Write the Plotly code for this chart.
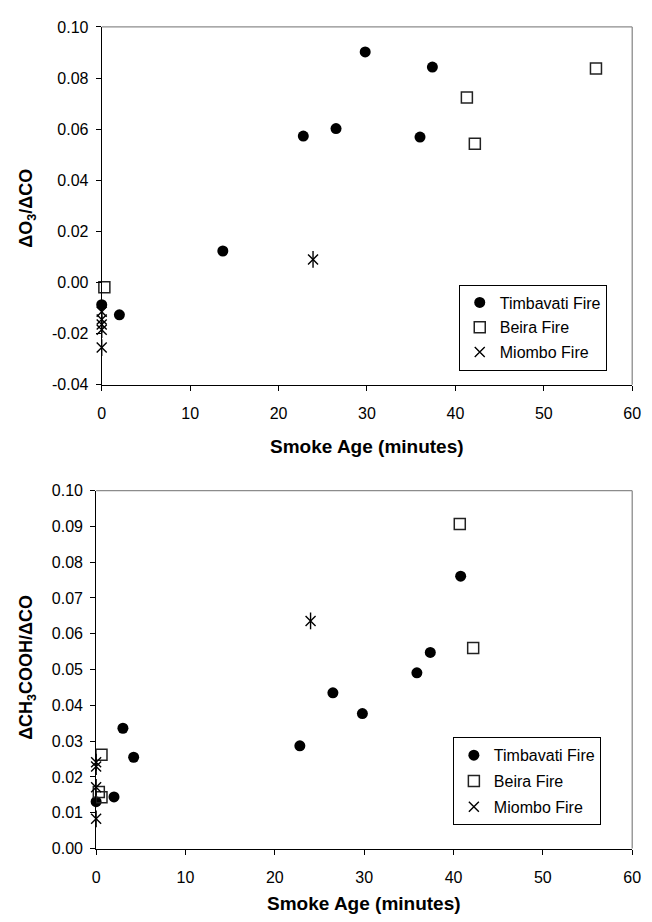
import plotly.graph_objects as go

# ---------------- data ----------------
# Top panel: dO3/dCO vs smoke age (minutes)
tim_top_x = [0.0, 2.0, 13.7, 22.8, 26.5, 29.8, 36.0, 37.4]
tim_top_y = [-0.0087, -0.0127, 0.0123, 0.0573, 0.0602, 0.0902, 0.0569, 0.0843]
beira_top_x = [0.3, 41.3, 42.2, 55.9]
beira_top_y = [-0.0019, 0.0724, 0.0543, 0.0837]
miombo_top_x = [0.0, 0.0, 0.0, 0.0, 0.0, 23.9]
miombo_top_y = [-0.0115, -0.0145, -0.0165, -0.0185, -0.0255, 0.0090]

# Bottom panel: dCH3COOH/dCO vs smoke age (minutes)
tim_bot_x = [0.0, 2.0, 3.0, 4.2, 22.8, 26.5, 29.8, 35.9, 37.4, 40.8]
tim_bot_y = [0.0131, 0.0144, 0.0336, 0.0255, 0.0287, 0.0435, 0.0377, 0.0491, 0.0548, 0.0761]
beira_bot_x = [0.3, 0.6, 0.6, 40.7, 42.2]
beira_bot_y = [0.0158, 0.0143, 0.0262, 0.0907, 0.0560]
miombo_bot_x = [0.0, 0.0, 0.0, 0.0, 24.0]
miombo_bot_y = [0.0241, 0.0229, 0.0171, 0.0083, 0.0636]

series_names = ["Timbavati Fire", "Beira Fire", "Miombo Fire"]
x_ticks = [0, 10, 20, 30, 40, 50, 60]
y_ticks_top = [-0.04, -0.02, 0.00, 0.02, 0.04, 0.06, 0.08, 0.10]
y_ticks_bot = [0.00, 0.01, 0.02, 0.03, 0.04, 0.05, 0.06, 0.07, 0.08, 0.09, 0.10]
x_title = "Smoke Age (minutes)"
y_title_top = "ΔO<sub>3</sub>/ΔCO"
y_title_bot = "ΔCH<sub>3</sub>COOH/ΔCO"

# ---------------- styling ----------------
W, H = 652, 922
FONT = "Liberation Sans, Arial, sans-serif"


def fmt(v):
    return f"{v:.2f}"


fig = go.Figure()


def add_panel(xa, ya, legend, tx, ty, bx, by, mx, my):
    fig.add_trace(go.Scatter(
        x=tx, y=ty, mode="markers", name=series_names[0],
        marker=dict(symbol="circle", size=11, color="black"),
        xaxis=xa, yaxis=ya, legend=legend, legendgroup=legend + "a",
        cliponaxis=False))
    fig.add_trace(go.Scatter(
        x=bx, y=by, mode="markers", name=series_names[1],
        marker=dict(symbol="square-open", size=11, color="#222",
                    line=dict(width=1.5, color="#222")),
        xaxis=xa, yaxis=ya, legend=legend, legendgroup=legend + "b",
        cliponaxis=False))
    fig.add_trace(go.Scatter(
        x=mx, y=my, mode="markers", name=series_names[2],
        marker=dict(symbol="x-thin-open", size=10, color="black",
                    line=dict(width=1.4, color="black")),
        xaxis=xa, yaxis=ya, legend=legend, legendgroup=legend + "c",
        cliponaxis=False))
    fig.add_trace(go.Scatter(
        x=mx, y=my, mode="markers", name=series_names[2], showlegend=False,
        marker=dict(symbol="line-ns-open", size=12, color="black",
                    line=dict(width=1.4, color="black")),
        xaxis=xa, yaxis=ya, legend=legend, legendgroup=legend + "c",
        cliponaxis=False))


add_panel("x", "y", "legend", tim_top_x, tim_top_y, beira_top_x, beira_top_y,
          miombo_top_x, miombo_top_y)
add_panel("x2", "y2", "legend2", tim_bot_x, tim_bot_y, beira_bot_x, beira_bot_y,
          miombo_bot_x, miombo_bot_y)

# plot-area pixel geometry
top_l, top_r, top_t, top_b = 99.7, 641.0, 19.3, 383.7
bot_l, bot_r, bot_t, bot_b = 94.0, 641.0, 491.7, 856.3

axis_common = dict(showgrid=False, zeroline=False, showline=True,
                   linecolor="black", linewidth=1, ticks="outside",
                   ticklen=5, tickwidth=1, tickcolor="black",
                   tickfont=dict(family=FONT, size=16, color="black"))

fig.update_layout(
    width=W, height=H,
    margin=dict(l=0, r=0, t=0, b=0),
    paper_bgcolor="white", plot_bgcolor="white",
    font=dict(family=FONT, color="black"),
    xaxis=dict(domain=[top_l / W, top_r / W], range=[0, 60], anchor="y",
               tickvals=x_ticks, ticktext=[str(v) for v in x_ticks],
               ticklabelstandoff=9, **axis_common),
    yaxis=dict(domain=[1 - top_b / H, 1 - top_t / H], range=[-0.04, 0.10],
               anchor="x", tickvals=y_ticks_top,
               ticktext=[fmt(v) for v in y_ticks_top],
               ticklabelstandoff=4, **axis_common),
    xaxis2=dict(domain=[bot_l / W, bot_r / W], range=[0, 60], anchor="y2",
                tickvals=x_ticks, ticktext=[str(v) for v in x_ticks],
                ticklabelstandoff=9, **axis_common),
    yaxis2=dict(domain=[1 - bot_b / H, 1 - bot_t / H], range=[0, 0.10],
                anchor="x2", tickvals=y_ticks_bot,
                ticktext=[fmt(v) for v in y_ticks_bot],
                ticklabelstandoff=4, **axis_common),
    legend=dict(x=464 / W, y=1 - 281.7 / H, xanchor="left", yanchor="top",
                bgcolor="white", bordercolor="black", borderwidth=1,
                font=dict(family=FONT, size=16, color="black"),
                tracegroupgap=1, itemclick=False),
    legend2=dict(x=458 / W, y=1 - 743 / H, xanchor="left", yanchor="top",
                 bgcolor="white", bordercolor="black", borderwidth=1,
                 font=dict(family=FONT, size=16, color="black"),
                 tracegroupgap=2, itemclick=False),
    showlegend=True,
)

# gray top/right frame lines
for xd, yd in (("x domain", "y domain"), ("x2 domain", "y2 domain")):
    fig.add_shape(type="line", xref=xd, yref=yd, x0=0, x1=1, y0=1, y1=1,
                  line=dict(color="#8c8c8c", width=1.3))
    fig.add_shape(type="line", xref=xd, yref=yd, x0=1, x1=1, y0=0, y1=1,
                  line=dict(color="#8c8c8c", width=1.3))

# axis titles
fig.add_annotation(text=f"<b>{x_title}</b>", xref="paper", yref="paper",
                   x=(top_l + top_r) / 2 / W, y=1 - 446.6 / H,
                   xanchor="center", yanchor="middle", showarrow=False,
                   font=dict(family=FONT, size=19, color="black"))
fig.add_annotation(text=f"<b>{x_title}</b>", xref="paper", yref="paper",
                   x=(bot_l + bot_r) / 2 / W, y=1 - 912 / H,
                   xanchor="center", yanchor="middle", showarrow=False,
                   font=dict(family=FONT, size=19, color="black"))
fig.add_annotation(text=f"<b>{y_title_top}</b>", xref="paper", yref="paper",
                   x=24 / W, y=1 - 204 / H, textangle=-90,
                   xanchor="center", yanchor="middle", showarrow=False,
                   font=dict(family=FONT, size=18, color="black"))
fig.add_annotation(text=f"<b>{y_title_bot}</b>", xref="paper", yref="paper",
                   x=24 / W, y=1 - 671.7 / H, textangle=-90,
                   xanchor="center", yanchor="middle", showarrow=False,
                   font=dict(family=FONT, size=18, color="black"))

fig.write_html("out.html")
